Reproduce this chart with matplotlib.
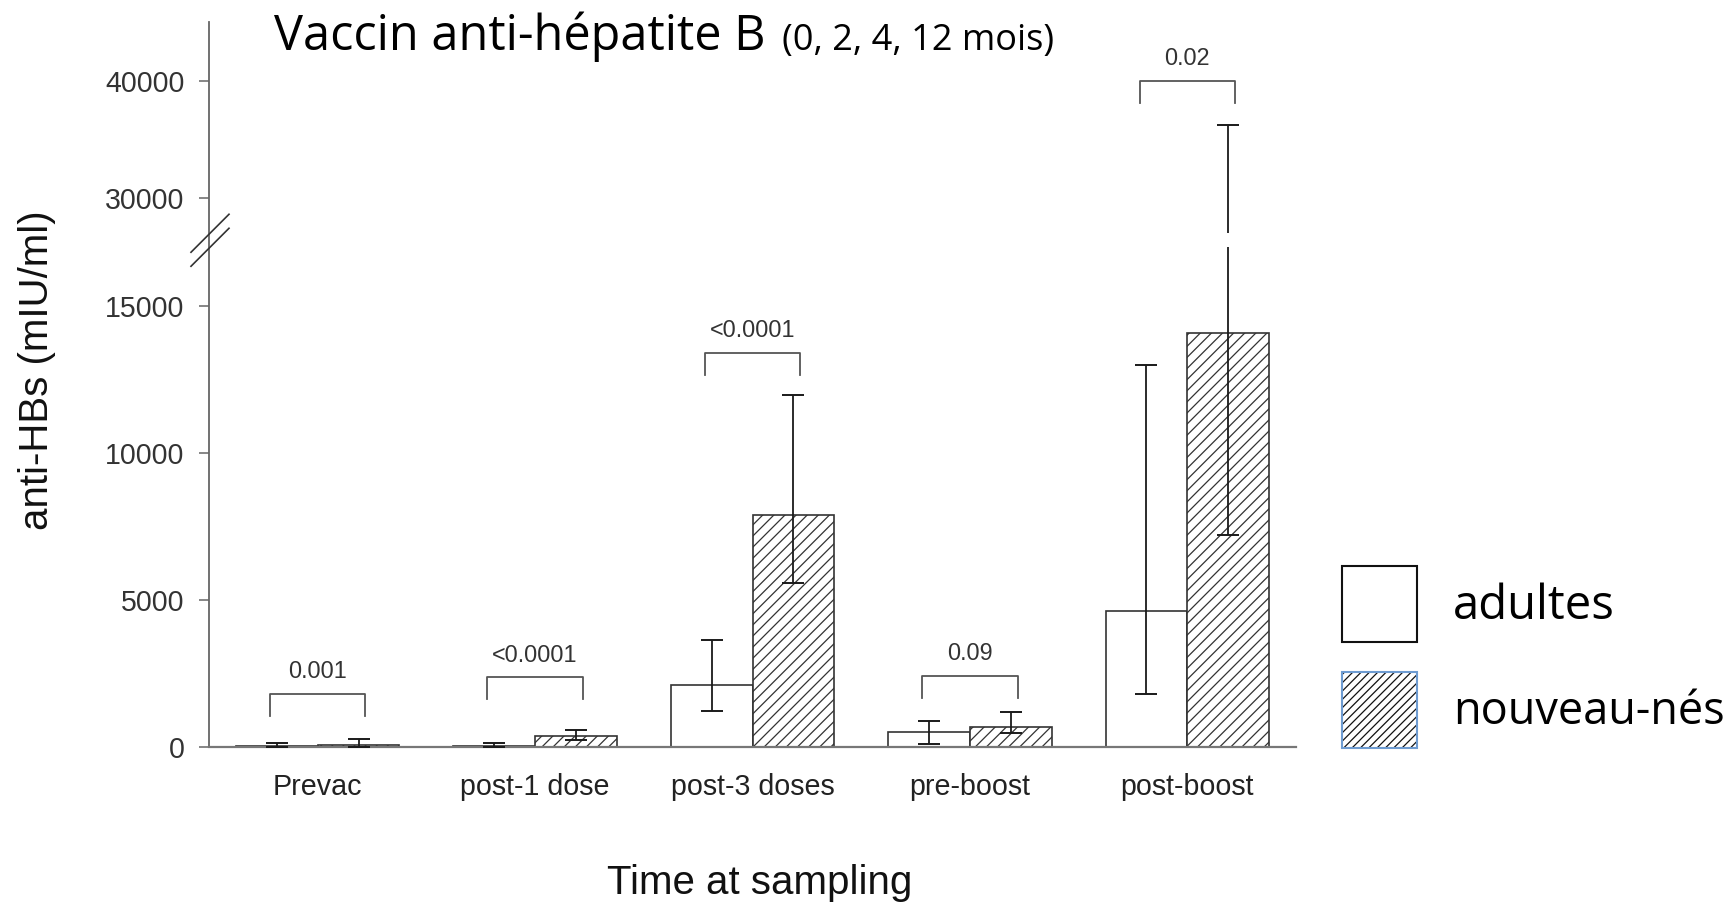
import numpy as np
import matplotlib
matplotlib.use('Agg')
import matplotlib.pyplot as plt
from matplotlib import transforms
from matplotlib.patches import Rectangle

## data
categories = ['Prevac', 'post-1 dose', 'post-3 doses', 'pre-boost', 'post-boost']
adultes = [50, 40, 2100, 520, 4620]
adultes_lo = [10, 10, 1220, 100, 1790]
adultes_hi = [150, 150, 3630, 870, 12980]
nouveau_nes = [60, 380, 7900, 680, 14100]
nouveau_nes_lo = [10, 235, 5575, 460, 7200]
nouveau_nes_hi = [270, 585, 11980, 1180, 36240]
p_values = ['0.001', '<0.0001', '<0.0001', '0.09', '0.02']
bracket_top = [1800, 2370, 13400, 2410, 40000]
y_ticks = [0, 5000, 10000, 15000, 30000, 40000]

## broken y axis: 0-17000 and 27000-45000 on different slopes
lo_slope, hi_slope = 0.02938, 0.01173
brk_in = [-1e6, 0, 17000, 27000, 45000, 1e6]
brk_out = [-1e6 * lo_slope, 0, 17000 * lo_slope, 17000 * lo_slope + 14,
           17000 * lo_slope + 14 + 18000 * hi_slope,
           17000 * lo_slope + 14 + (1e6 - 27000) * hi_slope]


def fwd(y):
    return np.interp(y, brk_in, brk_out)


def inv(y):
    return np.interp(y, brk_out, brk_in)


W, H = 1735, 906
plt.rcParams['font.family'] = ['Liberation Sans', 'DejaVu Sans']
plt.rcParams['hatch.linewidth'] = 0.9

fig = plt.figure(figsize=(W / 100, H / 100), dpi=100)
ax = fig.add_axes([209 / W, 1 - 747 / H, (1296 - 209) / W, (747 - 22) / H])
ax.set_yscale('function', functions=(fwd, inv))

x = np.arange(len(categories))
w = 0.376
err_a = [np.array(adultes) - np.array(adultes_lo), np.array(adultes_hi) - np.array(adultes)]
err_n = [np.array(nouveau_nes) - np.array(nouveau_nes_lo), np.array(nouveau_nes_hi) - np.array(nouveau_nes)]

ax.bar(x - w / 2, adultes, w, color='white', edgecolor='#333333', linewidth=1.2, zorder=2)
ax.bar(x + w / 2, nouveau_nes, w, color='white', edgecolor='#333333', linewidth=1.2, hatch='///', zorder=2)
ax.errorbar(x - w / 2, adultes, yerr=err_a, fmt='none', ecolor='#1a1a1a', elinewidth=1.3,
            capsize=7.8, capthick=1.4, zorder=3)
ax.errorbar(x + w / 2, nouveau_nes, yerr=err_n, fmt='none', ecolor='#1a1a1a', elinewidth=1.3,
            capsize=7.8, capthick=1.4, zorder=3)

# white gap where the axis is broken
ax.axhspan(17000, 27000, xmin=0.01, xmax=1, color='white', zorder=3.5, lw=0)

# significance brackets
for i, (p, top) in enumerate(zip(p_values, bracket_top)):
    bot = inv(fwd(top) - 22)
    ax.plot([i - 0.219, i - 0.219, i + 0.219, i + 0.219], [bot, top, top, bot],
            color='#555555', lw=1.3, zorder=4)
    ax.annotate(p, (i, top), xytext=(0, 16), textcoords='offset points',
                ha='center', va='center', fontsize=16.8, color='#333333')

ax.set_xlim(-0.5, 4.5)
ax.set_ylim(0, 45000)
ax.set_yticks(y_ticks)
ax.set_yticklabels([str(t) for t in y_ticks])
ax.set_xticks(x)
ax.set_xticklabels(categories)
ax.tick_params(axis='y', length=7.2, width=1.1, color='#666666', pad=10.5, labelsize=20.6, labelcolor='#333333')
ax.tick_params(axis='x', length=0, pad=19, labelsize=20.6, labelcolor='#222222')
for s in ['top', 'right']:
    ax.spines[s].set_visible(False)
ax.spines['left'].set_color('#666666')
ax.spines['left'].set_linewidth(1.3)
ax.spines['bottom'].set_color('#777777')
ax.spines['bottom'].set_linewidth(1.6)

# break marks on the y axis
for yv in [27000, 17000]:
    tr = fig.dpi_scale_trans + transforms.ScaledTranslation(-0.5, yv, ax.transData)
    ax.plot([-0.18, 0.2], [-0.19, 0.19], transform=tr, color='#333333', lw=1.2,
            clip_on=False, zorder=6)

fig.text(37 / W, 1 - 370 / H, 'anti-HBs (mIU/ml)', rotation=90, ha='center', va='center',
         fontsize=29, color='#111111')
fig.text(760 / W, 1 - 883 / H, 'Time at sampling', ha='center', va='center',
         fontsize=29, color='#111111')

# title
t1 = fig.text(274 / W, 1 - 50 / H, 'Vaccin anti-hépatite B', fontsize=35, va='baseline',
              family=['Open Sans', 'DejaVu Sans'])
fig.canvas.draw()
bb = t1.get_window_extent()
fig.text((bb.x1 + 16) / W, 1 - 50 / H, '(0, 2, 4, 12 mois)', fontsize=26, va='baseline',
         family=['Open Sans', 'DejaVu Sans'])

# legend
def px(x0, y0, x1, y1):
    return (x0 / W, 1 - y1 / H), (x1 - x0) / W, (y1 - y0) / H


xy, ww, hh = px(1342, 566, 1417, 642)
fig.add_artist(Rectangle(xy, ww, hh, transform=fig.transFigure, facecolor='white',
                         edgecolor='#111111', lw=1.5))
xy, ww, hh = px(1342, 672, 1417, 748)
fig.add_artist(Rectangle(xy, ww, hh, transform=fig.transFigure, facecolor='white',
                         edgecolor='#111111', lw=0, hatch='////'))
fig.add_artist(Rectangle(xy, ww, hh, transform=fig.transFigure, facecolor='none',
                         edgecolor='#6d9bd1', lw=1.5))
fig.text(1453 / W, 1 - 606 / H, 'adultes', fontsize=34, va='center',
         family=['Open Sans', 'DejaVu Sans'])
fig.text(1453 / W, 1 - 712 / H, 'nouveau-nés', fontsize=32.5, va='center',
         family=['Open Sans', 'DejaVu Sans'])

fig.savefig('out.png', dpi=100)
